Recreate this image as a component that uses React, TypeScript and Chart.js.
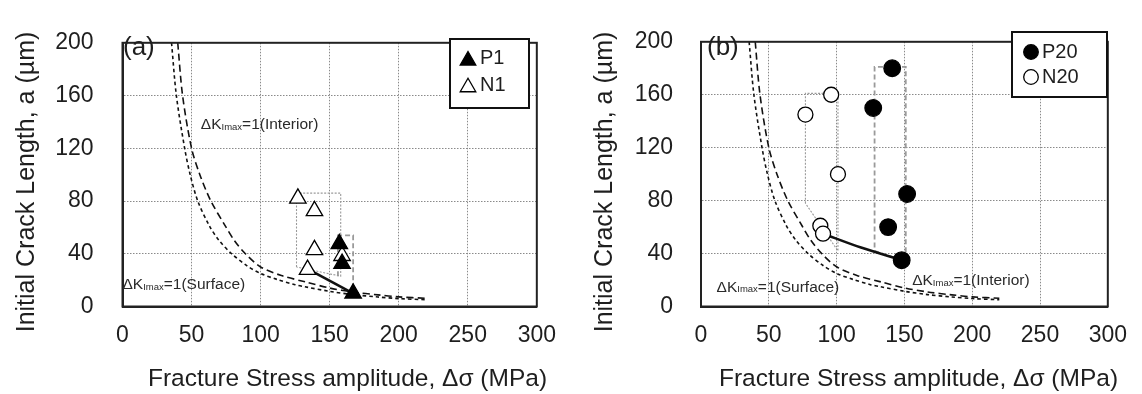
import React, { useEffect, useRef } from 'react';
import { Chart, registerables } from 'chart.js';

Chart.register(...registerables);

const FONT = "'Liberation Sans', Arial, sans-serif";
const INK = '#1e1e1e';

// ---------- axes ----------
const xTickValues = [0, 50, 100, 150, 200, 250, 300];
const yTickValues = [0, 40, 80, 120, 160, 200];
const xTitle = 'Fracture Stress amplitude, Δσ (MPa)';
const yTitle = 'Initial Crack Length, a (µm)';

// ---------- ΔKImax = 1 curves ----------
const surfaceStress = [35.5, 39, 45, 49, 54.5, 63, 70, 79, 90, 100, 112, 125, 132, 150, 167, 185, 200, 220];
const surfaceLength = [200, 160, 120, 100, 80, 61, 50, 40, 31, 25, 20.5, 16.5, 15, 11.5, 9, 7.2, 6, 5.1];
const interiorStress = [40, 43.5, 50, 56, 64, 74.5, 81, 89, 100, 115, 133, 150, 167, 185, 200, 220];
const interiorLength = [200, 160, 120, 100, 80, 61, 50, 40, 30, 23.5, 18.5, 14, 11, 8.8, 7.3, 6.2];

// ---------- panel (a) ----------
const p1Stress = [157, 159, 167];
const p1Length = [47.5, 32.5, 10];
const n1Stress = [127, 139, 139, 134, 159];
const n1Length = [82, 72.5, 43, 28, 38.5];
const linkAStress = [135, 167];
const linkALength = [28, 10];
const envN1Stress = [126, 126, 158, 158, 126];
const envN1Length = [30, 86, 86, 23, 30];
const envP1Stress = [156, 156, 167, 167];
const envP1Length = [23, 54, 54, 12];

// ---------- panel (b) ----------
const p20Stress = [141, 127, 152, 138, 148];
const p20Length = [180, 150, 85, 60, 35];
const n20Stress = [77, 96, 101, 88, 90];
const n20Length = [145, 160, 100, 61, 55];
const linkBStress = [90, 118, 148];
const linkBLength = [55, 44.5, 35];
const envN20Stress = [77, 77, 101, 101, 77];
const envN20Length = [78, 161, 161, 42, 78];
const envP20Stress = [148, 128, 128, 151, 151];
const envP20Length = [35, 42, 181, 181, 35];

const pts = (xs: number[], ys: number[]) => xs.map((x, i) => ({ x, y: ys[i] }));

function drawShape(ctx: CanvasRenderingContext2D, shape: string, filled: boolean, cx: number, cy: number, r: number) {
  ctx.beginPath();
  if (shape === 'circle') {
    ctx.arc(cx, cy, r, 0, Math.PI * 2);
  } else {
    ctx.moveTo(cx, cy - r);
    ctx.lineTo(cx + 0.866 * r, cy + 0.5 * r);
    ctx.lineTo(cx - 0.866 * r, cy + 0.5 * r);
    ctx.closePath();
  }
  ctx.fillStyle = filled ? '#000' : '#fff';
  ctx.fill();
  ctx.lineWidth = 1.3;
  ctx.strokeStyle = '#000';
  ctx.setLineDash([]);
  ctx.stroke();
}

function drawKNote(ctx: CanvasRenderingContext2D, suffix: string, x: number, yMid: number) {
  const fs = 15.5;
  const base = yMid + 0.36 * fs;
  ctx.fillStyle = '#2a2a2a';
  ctx.textAlign = 'left';
  ctx.textBaseline = 'alphabetic';
  ctx.font = `${fs}px ${FONT}`;
  ctx.fillText('ΔK', x, base);
  let cx = x + ctx.measureText('ΔK').width;
  ctx.font = `9.5px ${FONT}`;
  ctx.fillText('Imax', cx, base + 0.5);
  cx += ctx.measureText('Imax').width;
  ctx.font = `${fs}px ${FONT}`;
  ctx.fillText(suffix, cx, base);
}

const decoPlugin = {
  id: 'deco',
  afterDraw(chart: any, _args: any, opts: any) {
    const { ctx, chartArea: a, scales } = chart;
    ctx.save();
    // frame
    ctx.setLineDash([]);
    ctx.strokeStyle = '#222';
    ctx.lineWidth = 2;
    ctx.strokeRect(a.left, a.top, a.right - a.left, a.bottom - a.top);

    // notes anchored at data coordinates
    for (const n of opts.notes) {
      drawKNote(ctx, n.suffix, scales.x.getPixelForValue(n.x), scales.y.getPixelForValue(n.y));
    }

    // panel label
    ctx.fillStyle = INK;
    ctx.font = `26px ${FONT}`;
    ctx.textAlign = 'left';
    ctx.textBaseline = 'middle';
    ctx.fillText(opts.panel, opts.panelX, 48);

    // legend
    const L = opts.legend;
    ctx.fillStyle = '#fff';
    ctx.fillRect(L.x, L.y, L.w, L.h);
    ctx.strokeStyle = '#111';
    ctx.lineWidth = 2;
    ctx.strokeRect(L.x, L.y, L.w, L.h);
    L.items.forEach((it: any, i: number) => {
      const rowMid = L.y + L.row0 + i * L.rowGap;
      const cy = it.shape === 'triangle' ? rowMid + L.r / 4 : rowMid;
      drawShape(ctx, it.shape, it.filled, L.x + L.markerDX, cy, L.r);
      ctx.fillStyle = INK;
      ctx.font = `20px ${FONT}`;
      ctx.textAlign = 'left';
      ctx.textBaseline = 'middle';
      ctx.fillText(it.label, L.x + L.textDX, rowMid);
    });

    // axis titles
    ctx.fillStyle = INK;
    ctx.textAlign = 'center';
    ctx.textBaseline = 'middle';
    ctx.font = `24.5px ${FONT}`;
    ctx.fillText(xTitle, 347.5, 379);
    ctx.save();
    ctx.translate(a.left - 95.5, 182);
    ctx.rotate(-Math.PI / 2);
    ctx.font = `25px ${FONT}`;
    ctx.fillText(yTitle, 0, 0);
    ctx.restore();

    ctx.restore();
  },
};

function buildConfig(p: any) {
  const gridCommon = { color: '#8a8a8a', lineWidth: 1, drawTicks: false };
  const borderCommon = { display: true, color: '#222', width: 2, dash: [1.5, 1.5] };
  return {
    type: 'scatter',
    data: { datasets: p.datasets },
    options: {
      animation: false,
      responsive: false,
      events: [],
      layout: { padding: { left: 0, right: p.padRight, top: 23, bottom: 0 } },
      plugins: {
        legend: { display: false },
        tooltip: { enabled: false },
        deco: p.deco,
      },
      scales: {
        x: {
          type: 'linear',
          min: 0,
          max: 300,
          afterBuildTicks: (axis: any) => { axis.ticks = xTickValues.map((value) => ({ value })); },
          afterFit: (axis: any) => { axis.height = 87.5; },
          grid: gridCommon,
          border: borderCommon,
          ticks: { color: INK, font: { family: FONT, size: 23 }, padding: 15, maxRotation: 0, autoSkip: false },
        },
        y: {
          type: 'linear',
          min: 0,
          max: 200,
          afterBuildTicks: (axis: any) => { axis.ticks = yTickValues.map((value) => ({ value })); },
          afterFit: (axis: any) => { axis.width = p.plotLeft; },
          grid: gridCommon,
          border: borderCommon,
          ticks: { color: INK, font: { family: FONT, size: 23 }, padding: p.yPad, autoSkip: false },
        },
      },
    },
    plugins: [decoPlugin],
  };
}

const markerSet = (label: string, xs: number[], ys: number[], style: string, filled: boolean, r: number) => ({
  label,
  data: pts(xs, ys),
  showLine: false,
  pointStyle: style,
  pointRadius: r,
  pointBackgroundColor: filled ? '#000' : '#fff',
  pointBorderColor: '#000',
  pointBorderWidth: 1.3,
});

const lineSet = (label: string, xs: number[], ys: number[], color: string, width: number, dash: number[], tension = 0) => ({
  label,
  data: pts(xs, ys),
  showLine: true,
  pointRadius: 0,
  borderColor: color,
  borderWidth: width,
  borderDash: dash,
  tension,
  fill: false,
});

const curveSets = () => [
  lineSet('ΔKImax=1 (Interior)', interiorStress, interiorLength, '#111', 1.6, [7, 4], 0.3),
  lineSet('ΔKImax=1 (Surface)', surfaceStress, surfaceLength, '#111', 1.6, [3.5, 3], 0.3),
];

const panelA = {
  plotLeft: 122.5,
  padRight: 22.3,
  yPad: 29,
  datasets: [
    markerSet('P1', p1Stress, p1Length, 'triangle', true, 9.5),
    markerSet('N1', n1Stress, n1Length, 'triangle', false, 9.5),
    lineSet('link', linkAStress, linkALength, '#111', 2.6, []),
    lineSet('P1 range', envP1Stress, envP1Length, '#9a9a9a', 1.8, [5, 3]),
    lineSet('N1 range', envN1Stress, envN1Length, '#9a9a9a', 1.1, [2, 1.5]),
    ...curveSets(),
  ],
  deco: {
    panel: '(a)',
    panelX: 123,
    notes: [
      { suffix: '=1(Interior)', x: 56.7, y: 138.6 },
      { suffix: '=1(Surface)', x: 0, y: 17.3 },
    ],
    legend: {
      x: 450, y: 39, w: 79, h: 69, r: 9, row0: 19.3, rowGap: 26.7, markerDX: 18, textDX: 30,
      items: [
        { label: 'P1', shape: 'triangle', filled: true },
        { label: 'N1', shape: 'triangle', filled: false },
      ],
    },
  },
};

const panelB = {
  plotLeft: 130,
  padRight: 23,
  yPad: 28,
  datasets: [
    markerSet('P20', p20Stress, p20Length, 'circle', true, 8.3),
    markerSet('N20', n20Stress, n20Length, 'circle', false, 7.5),
    lineSet('link', linkBStress, linkBLength, '#111', 2.6, [], 0.3),
    lineSet('P20 range', envP20Stress, envP20Length, '#9a9a9a', 1.8, [5, 3]),
    lineSet('N20 range', envN20Stress, envN20Length, '#9a9a9a', 1.1, [2, 1.5]),
    ...curveSets(),
  ],
  deco: {
    panel: '(b)',
    panelX: 136,
    notes: [
      { suffix: '=1(Surface)', x: 11.5, y: 15.2 },
      { suffix: '=1(Interior)', x: 155.7, y: 20.1 },
    ],
    legend: {
      x: 441, y: 32, w: 95, h: 65, r: 7.3, row0: 20, rowGap: 25, markerDX: 19, textDX: 30,
      items: [
        { label: 'P20', shape: 'circle', filled: true },
        { label: 'N20', shape: 'circle', filled: false },
      ],
    },
  },
};

function Panel({ spec }: { spec: any }) {
  const ref = useRef<HTMLCanvasElement>(null);
  useEffect(() => {
    const chart = new Chart(ref.current as HTMLCanvasElement, buildConfig(spec) as any);
    return () => chart.destroy();
  }, [spec]);
  return (
    <canvas ref={ref} width={571} height={394} style={{ display: 'block', width: 571, height: 394 }} />
  );
}

export default function App() {
  return (
    <div
      style={{
        position: 'absolute',
        left: 0,
        top: 0,
        width: 1142,
        height: 394,
        background: '#fff',
        display: 'flex',
      }}
    >
      <Panel spec={panelA} />
      <Panel spec={panelB} />
    </div>
  );
}
